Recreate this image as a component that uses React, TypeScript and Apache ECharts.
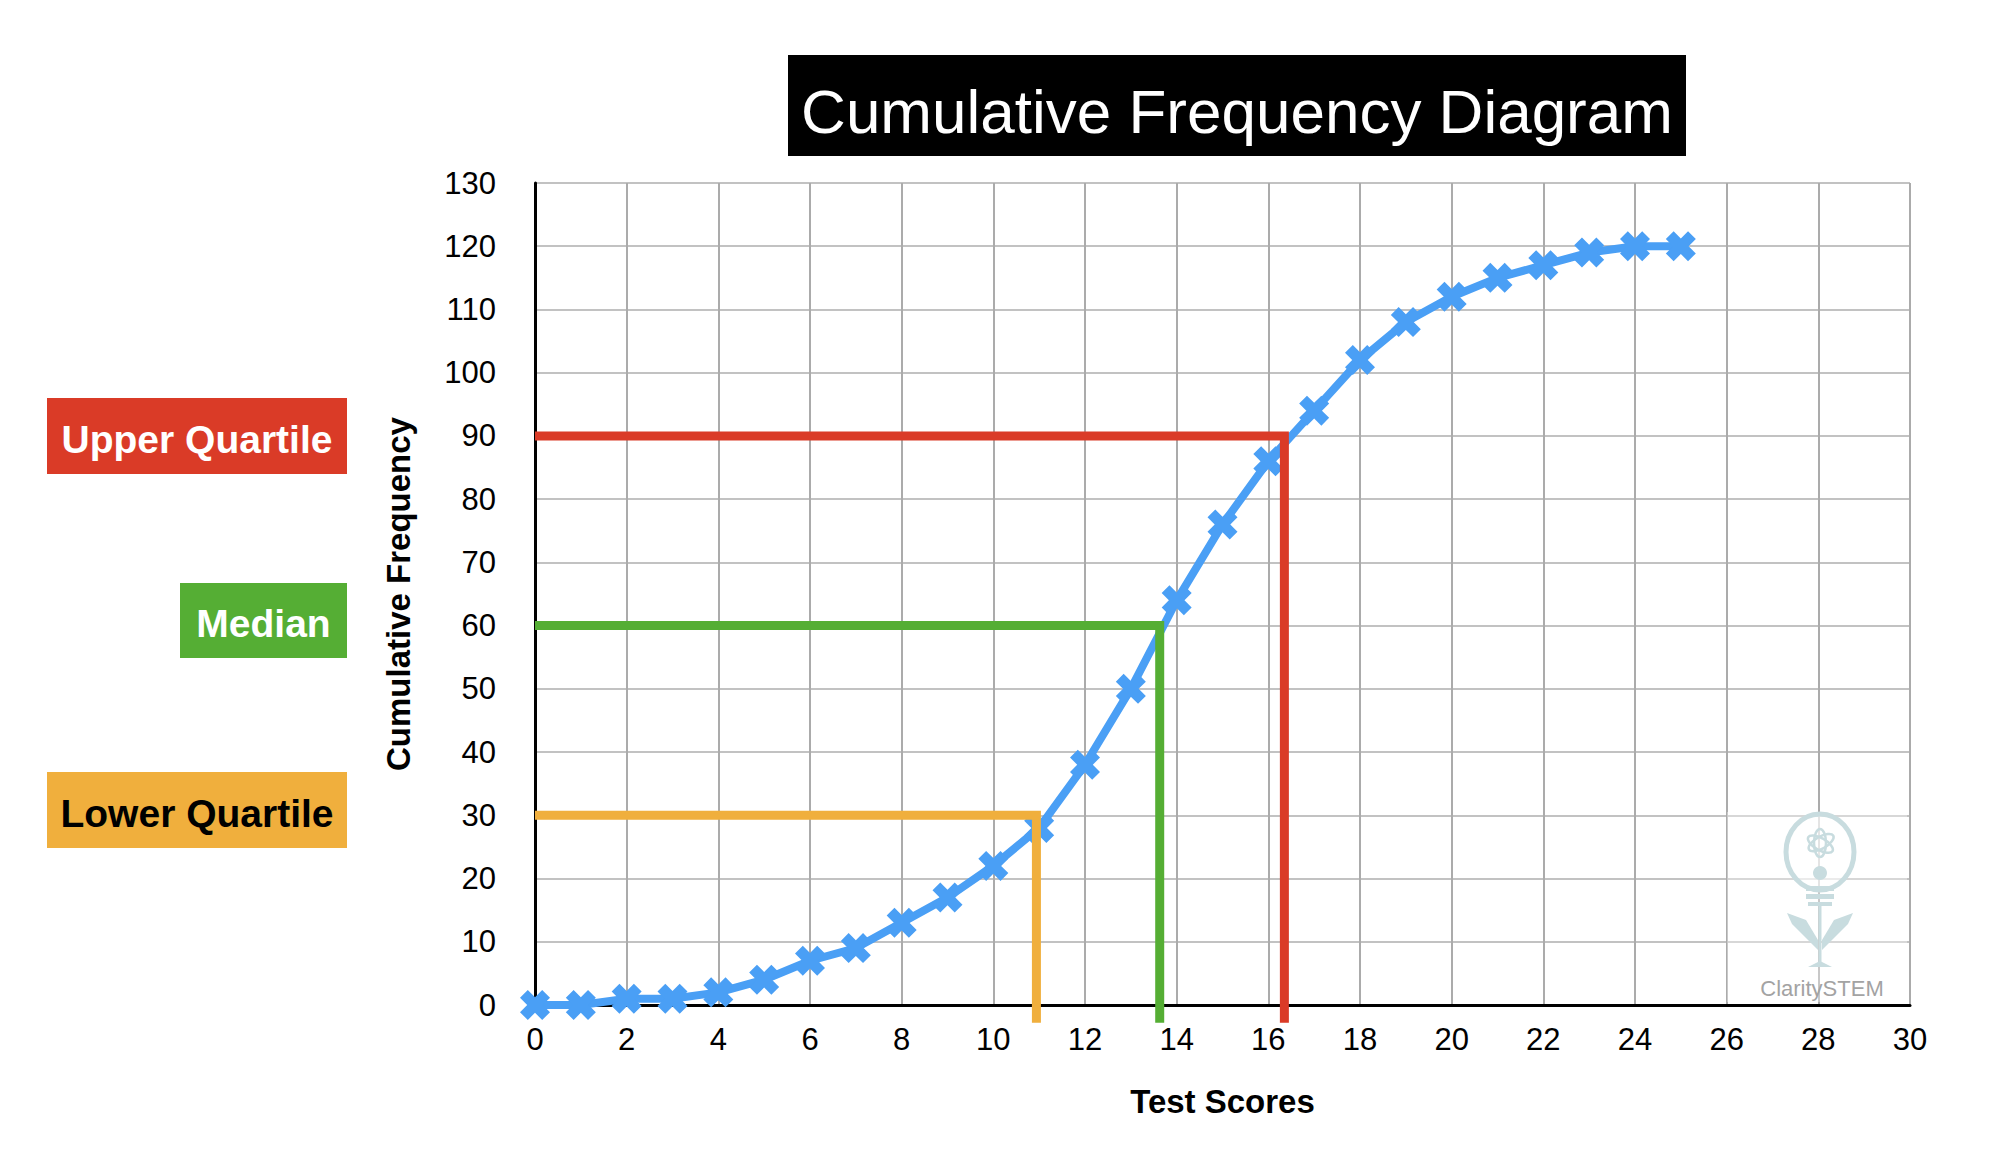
import React, { useEffect, useRef } from "react";
import * as echarts from "echarts";

const scores = [0, 1, 2, 3, 4, 5, 6, 7, 8, 9, 10, 11, 12, 13, 14, 15, 16, 17, 18, 19, 20, 21, 22, 23, 24, 25];
const cumFreq = [0, 0, 1, 1, 2, 4, 7, 9, 13, 17, 22, 28, 38, 50, 64, 76, 86, 94, 102, 108, 112, 115, 117, 119, 120, 120];

const quartileNames = ["Lower Quartile", "Median", "Upper Quartile"];
const quartileFreq = [30, 60, 90];
const quartileScore = [10.94, 13.63, 16.35];
const quartileColors = ["#F0AF3D", "#55AE34", "#DA3B27"];
const belowAxis = -2.8;

const FONT = "Liberation Sans, Arial, Helvetica, sans-serif";
const X_MARK = "path://M0,2.6 L2.6,0 L5,2.4 L7.4,0 L10,2.6 L7.6,5 L10,7.4 L7.4,10 L5,7.6 L2.6,10 L0,7.4 L2.4,5 Z";

export default function App() {
  const ref = useRef<HTMLDivElement>(null);
  useEffect(() => {
    document.body.style.margin = "0";
    const chart = echarts.init(ref.current!, null, { renderer: "svg" });

    const quartileSeries = quartileNames.map((name, i) => ({
      name,
      type: "line",
      data: [
        [0, quartileFreq[i]],
        [quartileScore[i], quartileFreq[i]],
        [quartileScore[i], belowAxis],
      ],
      symbol: "none",
      clip: false,
      z: 5,
      lineStyle: { color: quartileColors[i], width: 9, join: "miter", cap: "butt" },
      silent: true,
    }));

    const boxes = [
      { text: "Upper Quartile", x: 47, y: 398, w: 300, h: 76, fill: "#DA3B27", color: "#ffffff" },
      { text: "Median", x: 180, y: 583, w: 167, h: 75, fill: "#55AE34", color: "#ffffff" },
      { text: "Lower Quartile", x: 47, y: 772, w: 300, h: 76, fill: "#F0AF3D", color: "#000000" },
    ];

    const bulbColor = "#C8DCDF";
    const graphic: any[] = [
      { type: "rect", shape: { x: 788, y: 55, width: 898, height: 101 }, style: { fill: "#000" } },
      {
        type: "text",
        x: 1237,
        y: 111,
        style: { text: "Cumulative Frequency Diagram", fill: "#fff", font: `62px ${FONT}`, align: "center", verticalAlign: "middle" },
      },
      ...boxes.flatMap((b) => [
        { type: "rect", shape: { x: b.x, y: b.y, width: b.w, height: b.h }, style: { fill: b.fill } },
        {
          type: "text",
          x: b.x + b.w / 2,
          y: b.y + b.h / 2 + 3,
          style: { text: b.text, fill: b.color, font: `bold 39px ${FONT}`, align: "center", verticalAlign: "middle" },
        },
      ]),
      // watermark
      { type: "rect", z: 50, shape: { x: 1727, y: 812, width: 180, height: 190 }, style: { fill: "rgba(255,255,255,0.35)" } },
      { type: "ellipse", z: 51, shape: { cx: 1820, cy: 852, rx: 34, ry: 38 }, style: { fill: "rgba(255,255,255,0.5)", stroke: bulbColor, lineWidth: 5 } },
      { type: "ellipse", z: 51, shape: { cx: 1820, cy: 843, rx: 6, ry: 14 }, style: { fill: "none", stroke: bulbColor, lineWidth: 2.5 } },
      { type: "ellipse", z: 51, rotation: 1.05, originX: 1820, originY: 843, shape: { cx: 1820, cy: 843, rx: 6, ry: 14 }, style: { fill: "none", stroke: bulbColor, lineWidth: 2.5 } },
      { type: "ellipse", z: 51, rotation: -1.05, originX: 1820, originY: 843, shape: { cx: 1820, cy: 843, rx: 6, ry: 14 }, style: { fill: "none", stroke: bulbColor, lineWidth: 2.5 } },
      { type: "circle", z: 51, shape: { cx: 1820, cy: 873, r: 7 }, style: { fill: bulbColor } },
      { type: "rect", z: 51, shape: { x: 1806, y: 886, width: 28, height: 5 }, style: { fill: bulbColor } },
      { type: "rect", z: 51, shape: { x: 1806, y: 894, width: 28, height: 5 }, style: { fill: bulbColor } },
      { type: "rect", z: 51, shape: { x: 1808, y: 902, width: 24, height: 4 }, style: { fill: bulbColor } },
      { type: "line", z: 51, shape: { x1: 1820, y1: 906, x2: 1820, y2: 963 }, style: { stroke: bulbColor, lineWidth: 3 } },
      { type: "polygon", z: 51, shape: { points: [[1818, 950], [1792, 924], [1787, 913], [1806, 920], [1818, 940]] }, style: { fill: bulbColor } },
      { type: "polygon", z: 51, shape: { points: [[1822, 950], [1848, 924], [1853, 913], [1834, 920], [1822, 940]] }, style: { fill: bulbColor } },
      { type: "polygon", z: 51, shape: { points: [[1808, 967], [1820, 961], [1832, 967]] }, style: { fill: bulbColor } },
      {
        type: "text",
        z: 51,
        x: 1822,
        y: 988,
        style: { text: "ClaritySTEM", fill: "#A3A3A3", font: `22px ${FONT}`, align: "center", verticalAlign: "middle" },
      },
    ];

    chart.setOption({
      animation: false,
      backgroundColor: "#ffffff",
      textStyle: { fontFamily: FONT },
      grid: { left: 535, top: 183, right: 84, bottom: 167, containLabel: false },
      xAxis: {
        type: "value",
        min: 0,
        max: 30,
        interval: 2,
        name: "Test Scores",
        nameLocation: "middle",
        nameGap: 80,
        nameTextStyle: { fontSize: 33, fontWeight: "bold", color: "#000", fontFamily: FONT },
        axisLine: { show: true, onZero: false, lineStyle: { color: "#000", width: 3 } },
        axisTick: { show: false },
        axisLabel: { fontSize: 31, color: "#000", margin: 19, fontFamily: FONT },
        splitLine: { show: true, lineStyle: { color: "#ABABAB", width: 2 } },
      },
      yAxis: {
        type: "value",
        min: 0,
        max: 130,
        interval: 10,
        name: "Cumulative Frequency",
        nameLocation: "middle",
        nameGap: 120,
        nameRotate: 90,
        nameTextStyle: { fontSize: 33, fontWeight: "bold", color: "#000", fontFamily: FONT },
        axisLine: { show: true, onZero: false, lineStyle: { color: "#000", width: 3 } },
        axisTick: { show: false },
        axisLabel: { fontSize: 31, color: "#000", margin: 39, fontFamily: FONT },
        splitLine: { show: true, lineStyle: { color: "#C2C2C2", width: 2 } },
      },
      series: [
        {
          name: "Cumulative Frequency",
          type: "line",
          data: scores.map((s, i) => [s, cumFreq[i]]),
          symbol: X_MARK,
          symbolSize: 30,
          z: 4,
          clip: false,
          lineStyle: { color: "#4A9FF5", width: 8 },
          itemStyle: { color: "#4A9FF5" },
        },
        ...quartileSeries,
      ],
      graphic,
    });
    return () => chart.dispose();
  }, []);
  return <div ref={ref} style={{ width: 1994, height: 1172 }} />;
}
